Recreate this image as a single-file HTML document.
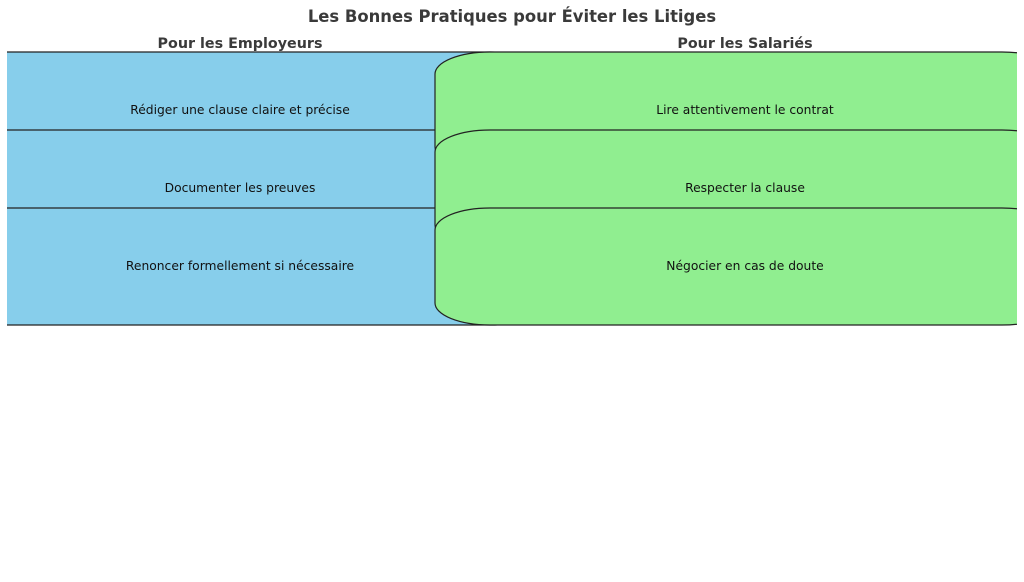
<!DOCTYPE html>
<html><head><meta charset="utf-8"><style>
html,body{margin:0;padding:0;background:#fff;}
svg{display:block;}
text{font-family:"DejaVu Sans","Liberation Sans",sans-serif;}
</style></head><body>
<svg width="1024" height="582" viewBox="0 0 1024 582" xmlns="http://www.w3.org/2000/svg">
<defs><clipPath id="c"><rect x="7" y="0" width="1010" height="582"/></clipPath></defs>
<rect width="1024" height="582" fill="#fff"/>
<text x="512" y="22" font-size="16.4" font-weight="bold" fill="#3a3a3a" text-anchor="middle">Les Bonnes Pratiques pour Éviter les Litiges</text>
<text x="240" y="48" font-size="14.3" font-weight="bold" fill="#3a3a3a" text-anchor="middle">Pour les Employeurs</text>
<text x="745" y="48" font-size="14.3" font-weight="bold" fill="#3a3a3a" text-anchor="middle">Pour les Salariés</text>
<g clip-path="url(#c)" stroke="#222" stroke-width="1.2">
<g fill="#87ceeb">
<path d="M0,52 H490 A55,22 0 0 1 545,74 V147 A55,22 0 0 1 490,169 H0 Z"/>
<path d="M0,130 H490 A55,22 0 0 1 545,152 V225 A55,22 0 0 1 490,247 H0 Z"/>
<path d="M0,208 H490 A55,22 0 0 1 545,230 V303 A55,22 0 0 1 490,325 H0 Z"/>
</g>
<g fill="#90ee90">
<path d="M490,52 H1002 A55,22 0 0 1 1057,74 V147 A55,22 0 0 1 1002,169 H490 A55,22 0 0 1 435,147 V74 A55,22 0 0 1 490,52 Z"/>
<path d="M490,130 H1002 A55,22 0 0 1 1057,152 V225 A55,22 0 0 1 1002,247 H490 A55,22 0 0 1 435,225 V152 A55,22 0 0 1 490,130 Z"/>
<path d="M490,208 H1002 A55,22 0 0 1 1057,230 V303 A55,22 0 0 1 1002,325 H490 A55,22 0 0 1 435,303 V230 A55,22 0 0 1 490,208 Z"/>
</g>
</g>
<g font-size="12.3" fill="#111" text-anchor="middle">
<text x="240" y="114">Rédiger une clause claire et précise</text>
<text x="240" y="192">Documenter les preuves</text>
<text x="240" y="270">Renoncer formellement si nécessaire</text>
<text x="745" y="114">Lire attentivement le contrat</text>
<text x="745" y="192">Respecter la clause</text>
<text x="745" y="270">Négocier en cas de doute</text>
</g>
</svg>
</body></html>
